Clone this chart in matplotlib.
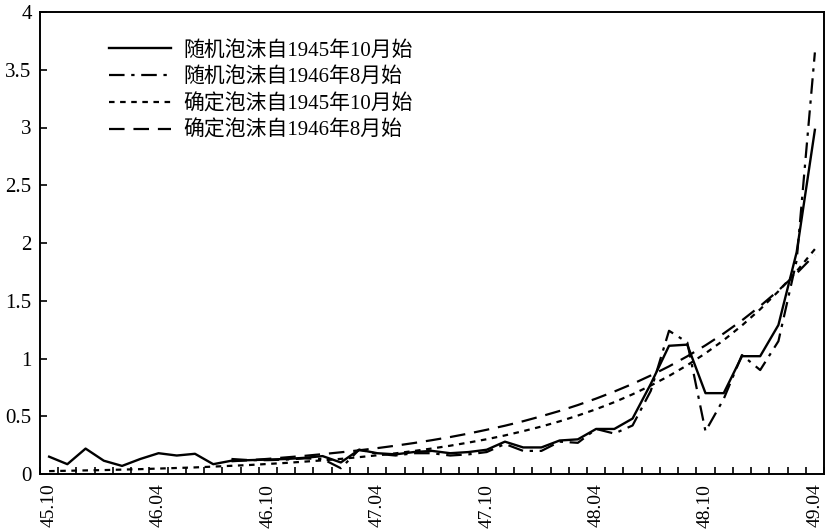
import numpy as np
import matplotlib.pyplot as plt

# monthly categories from 1945.10 to 1949.04
months = ['45.10', '45.11', '45.12', '46.01', '46.02', '46.03', '46.04', '46.05', '46.06',
          '46.07', '46.08', '46.09', '46.10', '46.11', '46.12', '47.01', '47.02', '47.03',
          '47.04', '47.05', '47.06', '47.07', '47.08', '47.09', '47.10', '47.11', '47.12',
          '48.01', '48.02', '48.03', '48.04', '48.05', '48.06', '48.07', '48.08', '48.09',
          '48.10', '48.11', '48.12', '49.01', '49.02', '49.03', '49.04']
tick_months = ['45.10', '46.04', '46.10', '47.04', '47.10', '48.04', '48.10', '49.04']

# 随机泡沫自1945年10月始
rand_4510 = [0.15, 0.085, 0.22, 0.115, 0.07, 0.13, 0.18, 0.16, 0.175, 0.085,
             0.115, 0.12, 0.125, 0.13, 0.14, 0.155, 0.10, 0.21, 0.18, 0.17,
             0.19, 0.20, 0.18, 0.19, 0.21, 0.28, 0.23, 0.23, 0.29, 0.30,
             0.39, 0.39, 0.48, 0.78, 1.11, 1.12, 0.70, 0.70, 1.02, 1.02,
             1.29, 1.92, 2.98]
# 随机泡沫自1946年8月始 (starts at 46.08)
rand_4608 = [0.13, 0.12, 0.12, 0.125, 0.135, 0.13, 0.05, 0.21, 0.175, 0.16,
             0.18, 0.18, 0.16, 0.17, 0.19, 0.26, 0.20, 0.20, 0.28, 0.27,
             0.39, 0.35, 0.42, 0.72, 1.24, 1.14, 0.37, 0.65, 1.03, 0.90,
             1.15, 1.85, 3.65]
# 确定泡沫自1945年10月始
det_4510 = [0.025, 0.028, 0.031, 0.034, 0.038, 0.042, 0.047, 0.052, 0.057, 0.064,
            0.071, 0.078, 0.087, 0.096, 0.107, 0.118, 0.131, 0.146, 0.162, 0.179,
            0.199, 0.221, 0.245, 0.272, 0.301, 0.334, 0.371, 0.411, 0.456, 0.506,
            0.561, 0.622, 0.690, 0.766, 0.849, 0.942, 1.045, 1.159, 1.286, 1.426,
            1.582, 1.755, 1.947]
# 确定泡沫自1946年8月始 (starts at 46.08)
det_4608 = [0.110, 0.120, 0.131, 0.144, 0.157, 0.172, 0.188, 0.205, 0.224, 0.245,
            0.268, 0.293, 0.320, 0.350, 0.383, 0.418, 0.457, 0.500, 0.546, 0.597,
            0.653, 0.714, 0.780, 0.853, 0.932, 1.019, 1.114, 1.217, 1.330, 1.454,
            1.589, 1.737, 1.899]

labels = ['随机泡沫自1945年10月始', '随机泡沫自1946年8月始',
          '确定泡沫自1945年10月始', '确定泡沫自1946年8月始']

plt.rcParams['font.family'] = ['Liberation Serif', 'Noto Sans CJK SC']

fig = plt.figure(figsize=(8.27, 5.31), dpi=100)
ax = fig.add_axes([40 / 827, 1 - 474 / 531, 784 / 827, 462 / 531])

x_all = np.arange(len(months))
start = months.index('46.08')
x_late = np.arange(start, len(months))

ax.plot(x_all, rand_4510, color='black', lw=1.7, ls='-', label=labels[0])
ax.plot(x_late, rand_4608, color='black', lw=1.6, ls=(0, (7, 3, 1.5, 3)), label=labels[1])
ax.plot(x_all, det_4510, color='black', lw=1.6, ls=(0, (2.5, 2.5)), label=labels[2])
ax.plot(x_late, det_4608, color='black', lw=1.6, ls=(0, (7, 4)), label=labels[3])

ax.set_xlim(-0.5, len(months) - 0.5)
ax.set_ylim(0, 4)

ax.set_xticks([months.index(m) for m in tick_months])
ax.set_xticklabels(tick_months, rotation=90, fontsize=14)
ax.set_xticks(np.arange(-0.5, len(months)), minor=True)
ax.tick_params(axis='x', which='major', length=0, pad=7)
ax.tick_params(axis='x', which='minor', direction='in', length=5, width=1.2)

yt = np.arange(0, 4.01, 0.5)
ax.set_yticks(yt)
ax.set_yticklabels(['0', '0.5', '1', '1.5', '2', '2.5', '3', '3.5', '4'], fontsize=15)
ax.tick_params(axis='y', direction='in', length=5, width=1.2, pad=6)

for s in ax.spines.values():
    s.set_linewidth(1.4)

leg = ax.legend(loc='upper left', bbox_to_anchor=(0.064, 0.978), frameon=False,
                fontsize=15, handlelength=3.0, handletextpad=0.55, labelspacing=0.32)

fig.savefig('out.png', dpi=100)
